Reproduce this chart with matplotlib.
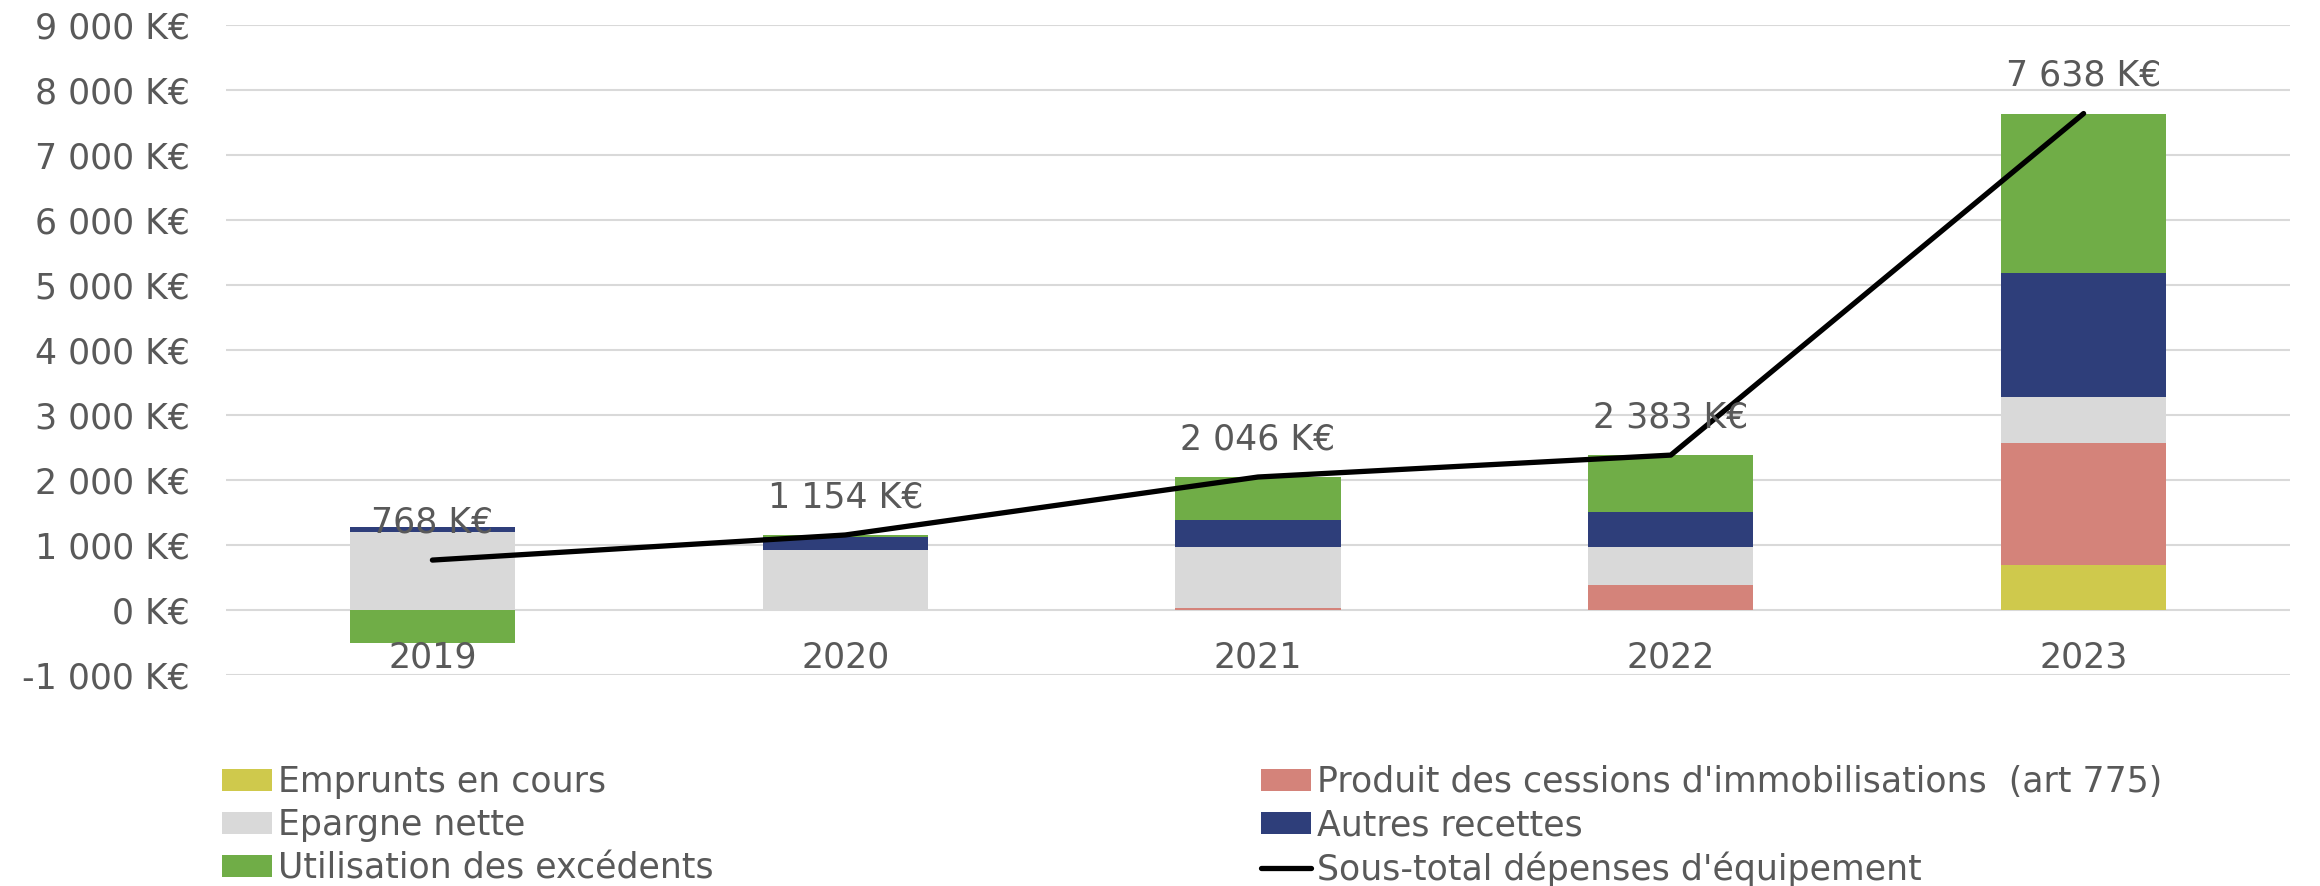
import matplotlib
matplotlib.use("Agg")
import matplotlib.pyplot as plt
import numpy as np
from matplotlib.patches import Patch
from matplotlib.lines import Line2D

years = ['2019', '2020', '2021', '2022', '2023']
emprunts = [0, 0, 0, 0, 700]
cessions = [5, 0, 35, 380, 1870]
epargne = [1190, 923, 940, 585, 706]
autres = [86, 200, 405, 538, 1906]
excedents = [-513, 31, 666, 880, 2456]
sous_total = [768, 1154, 2046, 2383, 7638]
y_ticks = [-1000, 0, 1000, 2000, 3000, 4000, 5000, 6000, 7000, 8000, 9000]

series = [
    ("Emprunts en cours", emprunts, "#CFC94C"),
    ("Produit des cessions d'immobilisations  (art 775)", cessions, "#D4837A"),
    ("Epargne nette", epargne, "#D9D9D9"),
    ("Autres recettes", autres, "#2E3E7A"),
    ("Utilisation des excédents", excedents, "#70AD47"),
]

TXT = "#595959"
FS = 25
plt.rcParams['font.family'] = ['DejaVu Sans']

fig = plt.figure(figsize=(23.2, 8.86), dpi=100)
ax = fig.add_axes([226/2320, 1-675/886, (2290-226)/2320, (675-25)/886])

x = np.arange(len(years))
pos_b = np.zeros(len(years))
neg_b = np.zeros(len(years))
handles = {}
for name, vals, col in series:
    v = np.array(vals, dtype=float)
    bottom = np.where(v >= 0, pos_b, neg_b)
    ax.bar(x, v, width=0.4, bottom=bottom, color=col, zorder=2)
    pos_b += np.where(v >= 0, v, 0)
    neg_b += np.where(v < 0, v, 0)
    handles[name] = Patch(facecolor=col)

ax.plot(x, sous_total, color="black", lw=3.8, zorder=3, solid_capstyle='round',
        solid_joinstyle='round')
handles["Sous-total dépenses d'équipement"] = Line2D([], [], color="black", lw=3.8,
                                                     solid_capstyle='round')

def fmt(v):
    s = f"{int(v):,}".replace(",", " ")
    return f"{s} K€"

for xi, v in zip(x, sous_total):
    ax.annotate(fmt(v), (xi, v), xytext=(0, 15), textcoords="offset points",
                ha="center", va="bottom", fontsize=FS, color=TXT, zorder=4)

for xi, yr in zip(x, years):
    ax.annotate(yr, (xi, 0), xytext=(0, -22), textcoords="offset points",
                ha="center", va="top", fontsize=FS, color=TXT)

ax.set_xlim(-0.5, len(years) - 0.5)
ax.set_ylim(-1000, 9000)
ax.set_yticks(y_ticks)
ax.set_yticklabels([fmt(t) for t in y_ticks], fontsize=FS, color=TXT)
ax.tick_params(axis='y', length=0, pad=26)
ax.set_xticks([])
ax.grid(axis='y', color="#D9D9D9", lw=1.5, zorder=0)
ax.set_axisbelow(True)
for s in ax.spines.values():
    s.set_visible(False)

left_names = ["Emprunts en cours", "Epargne nette", "Utilisation des excédents"]
right_names = ["Produit des cessions d'immobilisations  (art 775)", "Autres recettes",
               "Sous-total dépenses d'équipement"]
common = dict(loc="upper left", frameon=False, fontsize=FS, labelcolor=TXT,
              handlelength=1.45, handleheight=0.58, handletextpad=0.15,
              labelspacing=0.26, borderpad=0, borderaxespad=0)
fig.legend([handles[n] for n in left_names], left_names,
           bbox_to_anchor=(222/2320, 1-765/886), **common)
fig.legend([handles[n] for n in right_names], right_names,
           bbox_to_anchor=(1261/2320, 1-765/886), **common)

fig.savefig("out.png", dpi=100)
